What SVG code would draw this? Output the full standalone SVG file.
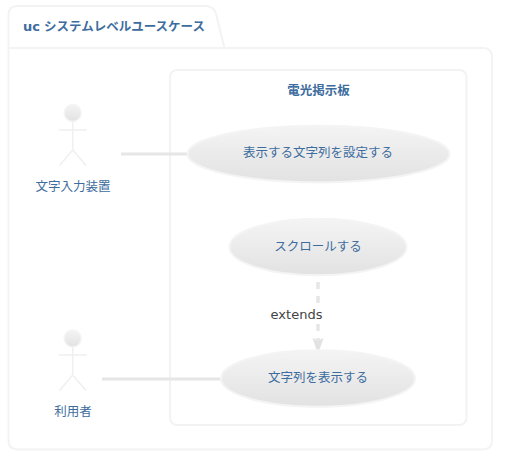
<svg xmlns="http://www.w3.org/2000/svg" width="506" height="464" viewBox="0 0 506 464">
<style>
.frame{fill:#fff;stroke:#f3f3f3;stroke-width:2}
.uc{fill:url(#g);stroke:#f4f4f4;stroke-width:2}
.act{fill:none;stroke:#f0f0f0;stroke-width:1.500}
.head{fill:url(#g);stroke:#f4f4f4;stroke-width:1.500}
.conn{fill:none;stroke:#e6e6e6;stroke-width:3}
text{font-family:"Noto Sans CJK JP","Liberation Sans",sans-serif;font-size:12.500px;fill:#3d6c9e;text-anchor:middle}
.b{font-weight:700}
</style>
<defs>
<linearGradient id="g" x1="0" y1="0" x2="0" y2="1"><stop offset="0" stop-color="#f4f4f4"/><stop offset="1" stop-color="#e2e2e2"/></linearGradient>
</defs>
<g id="frame">
<path class="frame" d="M8.500 48V15Q8.500 6 17 6H205Q214 6 216 14L224.500 48H483Q492 48 492 57V440Q492 449.500 483 449.500H18Q8.500 449.500 8.500 440Z"/>
<path class="frame" d="M8.500 48H224.500"/>
<text class="b" x="23" y="31" style="text-anchor:start"><tspan style="font-family:'DejaVu Sans',sans-serif;font-size:13px">uc</tspan><tspan x="44">システムレベルユースケース</tspan></text>
</g>
<g id="system">
<rect class="frame" x="170" y="70" width="296.500" height="355" rx="7"/>
<text class="b" x="318.500" y="95">電光掲示板</text>
</g>
<g id="connectors">
<path class="conn" d="M121 154H188"/>
<path class="conn" d="M102 379H221"/>
<path class="conn" d="M318 282V340" stroke-dasharray="7 7" style="stroke-width:3.500"/>
<path d="M312.500 338L318 340.500L323.500 338L318 354Z" fill="#e2e2e2"/>
</g>
<g id="actor-input">
<circle class="head" cx="72.700" cy="113" r="8.500"/>
<path class="act" d="M59 130H86.500M72.700 122V150M72.700 150L59.500 165.500M72.700 150L86 165.500"/>
<text x="73" y="191">文字入力装置</text>
</g>
<g id="actor-user">
<circle class="head" cx="72.700" cy="338.500" r="8.500"/>
<path class="act" d="M59 355H86.500M72.700 347V375M72.700 375L59.500 390.500M72.700 375L86 390.500"/>
<text x="73" y="416">利用者</text>
</g>
<g id="uc-set">
<ellipse class="uc" cx="318.500" cy="154" rx="131" ry="28.300"/>
<text x="318" y="157">表示する文字列を設定する</text>
</g>
<g id="uc-scroll">
<ellipse class="uc" cx="318" cy="247" rx="88.500" ry="28.300"/>
<text x="318" y="251">スクロールする</text>
</g>
<g id="uc-show">
<ellipse class="uc" cx="318" cy="378.500" rx="97" ry="28.300"/>
<text x="318" y="382">文字列を表示する</text>
</g>
<g id="label-extends">
<rect x="268" y="306" width="57" height="16" fill="#fff"/>
<text x="296.500" y="319" style="font-family:'DejaVu Sans',sans-serif;font-size:13px;fill:#444">extends</text>
</g>
</svg>
